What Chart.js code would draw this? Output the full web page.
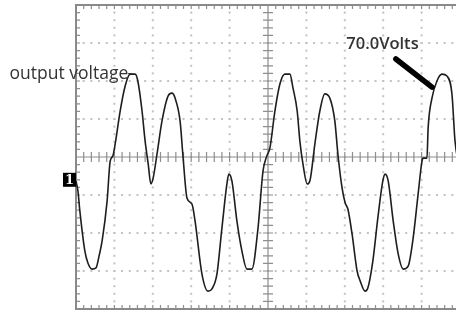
<!DOCTYPE html>
<html>
<head>
<meta charset="utf-8">
<script src="https://cdn.jsdelivr.net/npm/chart.js@4.4.1/dist/chart.umd.min.js"></script>
<style>
  html, body { margin: 0; padding: 0; background: #fff; overflow: hidden; }
  #wrap { width: 456px; height: 312px; overflow: hidden; }
  canvas { display: block; }
</style>
</head>
<body>
<div id="wrap"><canvas id="scope" width="470" height="312"></canvas></div>
<script>
/* ── Trace data (scope divisions: x 0..10, y -4..4) ── */
const timeDiv = [0.00, 0.05, 0.10, 0.23, 0.31, 0.42, 0.52, 0.60, 0.68, 0.81, 0.89, 0.96, 1.02, 1.15, 1.28, 1.41, 1.54, 1.61, 1.72, 1.80,
  1.88, 1.95, 2.01, 2.11, 2.24, 2.40, 2.50, 2.58, 2.71, 2.79, 2.89, 3.02, 3.10, 3.28, 3.44, 3.54, 3.67, 3.80, 3.93, 3.98,
  4.06, 4.19, 4.32, 4.45, 4.58, 4.74, 4.87, 4.97, 5.05, 5.18, 5.31, 5.44, 5.57, 5.65, 5.76, 5.83, 5.91, 6.02, 6.09, 6.22,
  6.35, 6.48, 6.61, 6.74, 6.82, 6.93, 7.01, 7.08, 7.19, 7.32, 7.40, 7.53, 7.60, 7.73, 7.86, 7.99, 8.05, 8.13, 8.26, 8.39,
  8.52, 8.65, 8.78, 8.91, 9.01, 9.04, 9.14, 9.17, 9.27, 9.40, 9.53, 9.66, 9.79, 9.87, 9.97];
const voltDiv = [-0.63, -0.89, -1.42, -2.47, -2.79, -2.95, -2.92, -2.61, -2.21, -1.16, -0.11, 0.03, 0.34, 1.21, 1.87, 2.18, 2.18, 2.00, 1.21, 0.42,
  -0.18, -0.71, -0.55, 0.08, 0.95, 1.61, 1.68, 1.55, 0.95, -0.03, -1.08, -1.24, -1.68, -3.08, -3.53, -3.47, -3.08, -1.87, -0.71, -0.45,
  -0.63, -1.68, -2.47, -2.95, -2.95, -1.87, -0.37, 0.03, 0.24, 1.21, 1.92, 2.18, 2.18, 1.82, 1.21, 0.42, -0.18, -0.71, -0.63, 0.34,
  1.21, 1.66, 1.55, 0.95, 0.08, -0.82, -1.21, -1.37, -2.03, -3.00, -3.26, -3.53, -3.45, -2.74, -1.61, -0.63, -0.45, -0.63, -1.68, -2.55,
  -2.95, -2.87, -2.13, -0.97, -0.11, -0.03, -0.03, 0.76, 1.55, 2.00, 2.18, 2.13, 1.66, 0.42, -0.24];

const xDivs = 10, yDivs = 8, minorPerDiv = 5;
const traceLabel = 'output voltage';
const scaleLabel = '70.0Volts';
const channelLabel = '1';

/* ── Graticule: border, dotted grid, centre crosshair ── */
const graticule = {
  id: 'graticule',
  beforeDatasetsDraw(chart) {
    const { ctx, chartArea: a, scales: { x, y } } = chart;
    const step = 1 / minorPerDiv;
    ctx.save();
    // dotted major lines
    ctx.fillStyle = '#c2c2c2';
    for (let i = 1; i < xDivs; i++) {
      if (i === xDivs / 2) continue;
      const px = x.getPixelForValue(i);
      for (let v = -yDivs / 2; v <= yDivs / 2 + 1e-6; v += step) {
        ctx.fillRect(px - 1, y.getPixelForValue(v) - 1, 2, 2);
      }
    }
    for (let j = -yDivs / 2 + 1; j < yDivs / 2; j++) {
      if (j === 0) continue;
      const py = y.getPixelForValue(j);
      for (let t = 0; t <= xDivs + 1e-6; t += step) {
        ctx.fillRect(x.getPixelForValue(t) - 1, py - 1, 2, 2);
      }
    }
    // centre crosshair with minor ticks
    const cx = x.getPixelForValue(xDivs / 2), cy = y.getPixelForValue(0);
    ctx.strokeStyle = '#8e8e8e';
    ctx.lineWidth = 1.2;
    ctx.beginPath();
    ctx.moveTo(a.left, cy); ctx.lineTo(a.right, cy);
    ctx.moveTo(cx, a.top); ctx.lineTo(cx, a.bottom);
    for (let t = 0; t <= xDivs + 1e-6; t += step) {
      const px = x.getPixelForValue(t);
      ctx.moveTo(px, cy - 5); ctx.lineTo(px, cy + 5);
      ctx.moveTo(px, a.top); ctx.lineTo(px, a.top + 4);
      ctx.moveTo(px, a.bottom); ctx.lineTo(px, a.bottom - 4);
    }
    for (let v = -yDivs / 2; v <= yDivs / 2 + 1e-6; v += step) {
      const py = y.getPixelForValue(v);
      ctx.moveTo(cx - 5, py); ctx.lineTo(cx + 5, py);
      ctx.moveTo(a.left, py); ctx.lineTo(a.left + 4, py);
      ctx.moveTo(a.right, py); ctx.lineTo(a.right - 4, py);
    }
    ctx.stroke();
    // border
    ctx.lineWidth = 2;
    ctx.strokeStyle = '#8a8a8a';
    ctx.strokeRect(a.left, a.top, a.right - a.left, a.bottom - a.top);
    ctx.restore();
  },
  afterDraw(chart) {
    const { ctx, scales: { x, y } } = chart;
    ctx.save();
    ctx.fillStyle = '#333';
    ctx.textBaseline = 'alphabetic';
    // trace label with short leader to the first peak
    ctx.font = '17.5px "Open Sans", sans-serif';
    ctx.textAlign = 'right';
    ctx.fillText(traceLabel, x.getPixelForValue(1.36), y.getPixelForValue(2.05));
    ctx.strokeStyle = '#222';
    ctx.lineWidth = 1;
    ctx.beginPath();
    ctx.moveTo(x.getPixelForValue(1.36), y.getPixelForValue(2.2));
    ctx.lineTo(x.getPixelForValue(1.47), y.getPixelForValue(2.18));
    ctx.stroke();
    // volts/div annotation with pointer
    ctx.font = '600 16.5px "Open Sans", sans-serif';
    ctx.textAlign = 'left';
    ctx.fillText(scaleLabel, x.getPixelForValue(7.04), y.getPixelForValue(2.84));
    ctx.strokeStyle = '#000';
    ctx.lineWidth = 5.5;
    ctx.lineCap = 'round';
    ctx.beginPath();
    ctx.moveTo(x.getPixelForValue(8.33), y.getPixelForValue(2.58));
    ctx.lineTo(x.getPixelForValue(9.27), y.getPixelForValue(1.84));
    ctx.stroke();
    // channel marker
    const mx = x.getPixelForValue(0), my = y.getPixelForValue(-0.6);
    ctx.fillStyle = '#000';
    ctx.fillRect(mx - 13, my - 7, 13, 14);
    ctx.fillStyle = '#fff';
    ctx.font = 'bold 13px "DejaVu Serif", serif';
    ctx.textAlign = 'center';
    ctx.textBaseline = 'middle';
    ctx.fillText(channelLabel, mx - 6.5, my + 1);
    ctx.restore();
  }
};

new Chart(document.getElementById('scope').getContext('2d'), {
  type: 'line',
  data: {
    datasets: [{
      label: traceLabel,
      data: timeDiv.map((t, i) => ({ x: t, y: voltDiv[i] })),
      borderColor: '#1e1e1e',
      borderWidth: 1.6,
      pointRadius: 0,
      cubicInterpolationMode: 'monotone'
    }]
  },
  options: {
    responsive: false,
    animation: false,
    devicePixelRatio: 1,
    layout: { padding: { left: 76, top: 5, right: 10, bottom: 3 } },
    scales: {
      x: { type: 'linear', min: 0, max: xDivs, display: false },
      y: { min: -yDivs / 2, max: yDivs / 2, display: false }
    },
    plugins: { legend: { display: false }, tooltip: { enabled: false } }
  },
  plugins: [graticule]
});
</script>
</body>
</html>
